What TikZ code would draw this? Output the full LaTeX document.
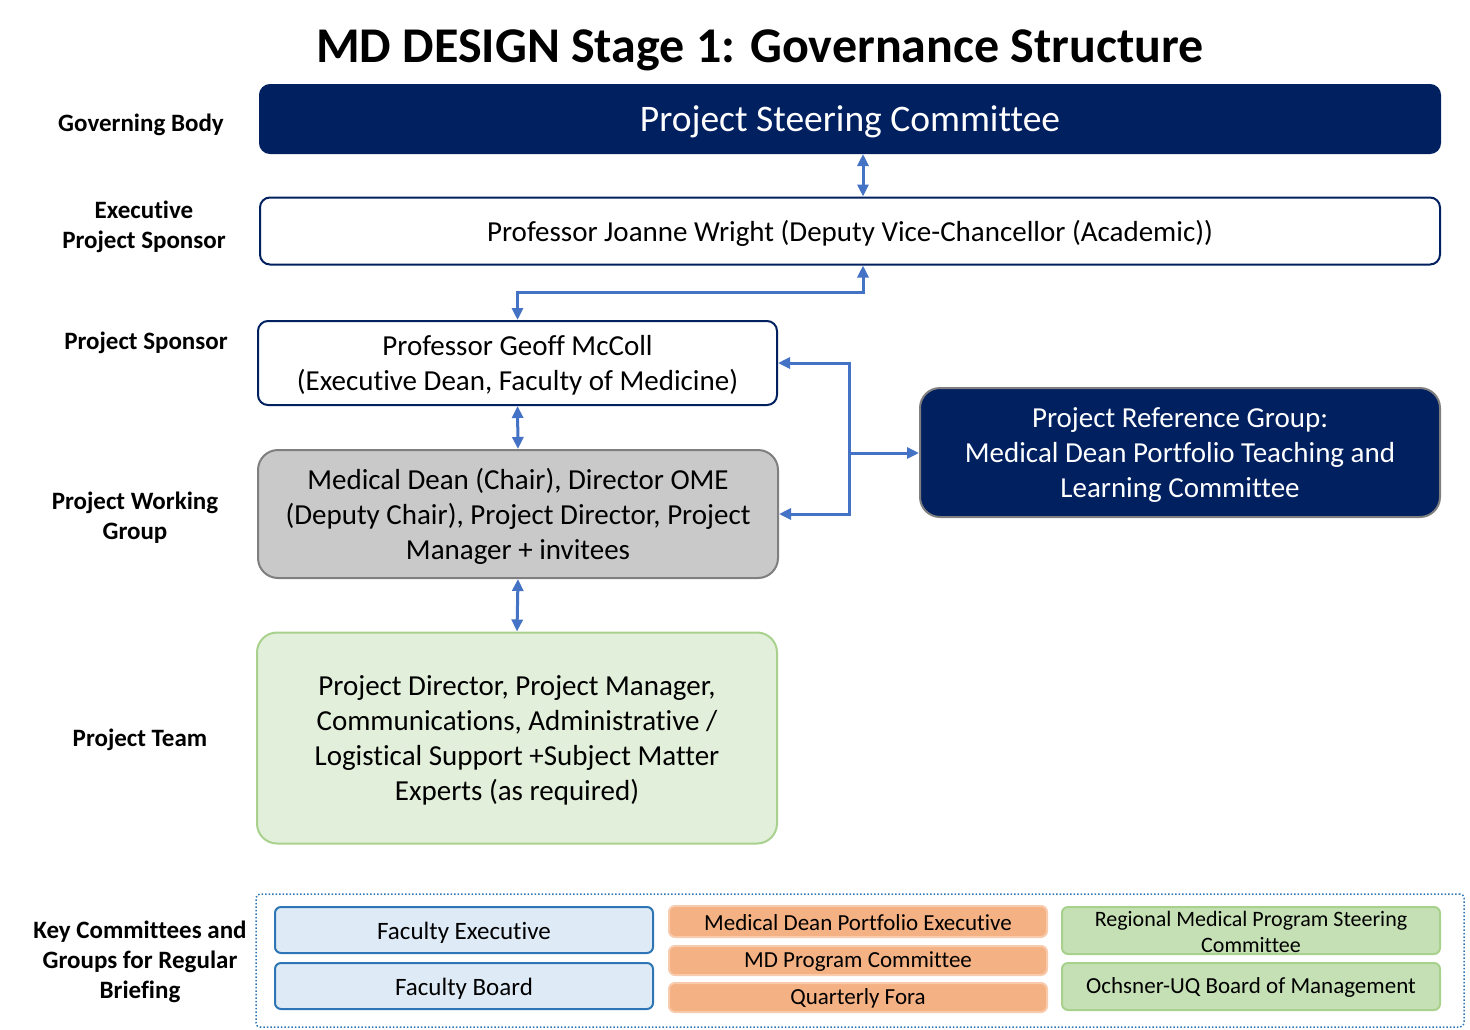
\documentclass[tikz,border=0pt]{standalone}
\usepackage{fontspec}
\setmainfont{Carlito}[Ligatures={NoCommon}]
\usetikzlibrary{arrows.meta,calc}
\definecolor{navy}{HTML}{002060}
\definecolor{arrblue}{HTML}{4472C4}
\definecolor{wggray}{HTML}{C9C9C9}
\definecolor{wgborder}{HTML}{7F7F7F}
\definecolor{teamfill}{HTML}{E2EFDA}
\definecolor{teamborder}{HTML}{A9D18E}
\definecolor{facfill}{HTML}{DEEBF7}
\definecolor{facborder}{HTML}{2E75B6}
\definecolor{orfill}{HTML}{F4B183}
\definecolor{orborder}{HTML}{F8CBAD}
\definecolor{grfill}{HTML}{C5E0B4}
\begin{document}
\begin{tikzpicture}[x=1pt,y=-1pt,
  box/.style={rounded corners=10pt, line width=2pt, inner sep=0pt},
  txt/.style={align=center, inner sep=0pt, yshift=-2.5pt},
  stxt/.style={align=center, inner sep=0pt, yshift=-1pt},
  lbl/.style={font=\fontsize{25}{30}\selectfont\bfseries, align=center, inner sep=0pt},
  body/.style={font=\fontsize{29}{35}\selectfont},
  small/.style={font=\fontsize{23}{26}\selectfont},
  arr/.style={draw=arrblue, line width=3pt, {Triangle[length=12pt,width=11pt]}-{Triangle[length=12pt,width=11pt]}},
  arrone/.style={draw=arrblue, line width=3pt, -{Triangle[length=12pt,width=11pt]}},
  bbox/.style={rounded corners=6pt, line width=2pt, inner sep=0pt, minimum width=378pt}
]
\useasboundingbox (0,0) rectangle (1470,1029);

% title
\node[font=\fontsize{50}{54}\selectfont\bfseries] (title) at (760,50) {MD DESIGN Stage 1: Governance Structure};

% left labels
\node[lbl] (l1) at (141,125) {Governing Body};
\node[lbl] (l2) at (144,227) {Executive\\Project Sponsor};
\node[lbl] (l3) at (146,343) {Project Sponsor};
\node[lbl] (l4) at (135,518) {Project Working\\Group};
\node[lbl] (l5) at (140,740) {Project Team};
\node[lbl] (l6) at (140,962) {Key Committees and\\Groups for Regular\\Briefing};

% main boxes
\node[box, fill=navy, draw=navy, minimum width=1180pt, minimum height=68pt] (psc) at (850,119) {};
\node[txt, text=white, font=\fontsize{37.5}{40}\selectfont] (psct) at (psc.center) {Project Steering Committee};
\node[box, fill=white, draw=navy, minimum width=1180pt, minimum height=67pt] (exec) at (850,231) {};
\node[txt, body] (exect) at (exec.center) {Professor Joanne Wright (Deputy Vice-Chancellor (Academic))};
\node[box, fill=white, draw=navy, minimum width=519pt, minimum height=84pt] (geoff) at (517.5,363) {};
\node[txt, body] (geofft) at (geoff.center) {Professor Geoff McColl\\(Executive Dean, Faculty of Medicine)};
\node[box, rounded corners=20pt, fill=wggray, draw=wgborder, minimum width=520pt, minimum height=128pt] (wg) at (518,514) {};
\node[txt, body] (wgt) at (wg.center) {Medical Dean (Chair), Director OME\\(Deputy Chair), Project Director, Project\\Manager + invitees};
\node[box, rounded corners=20pt, fill=teamfill, draw=teamborder, minimum width=520pt, minimum height=211pt] (team) at (517,738) {};
\node[txt, body] (teamt) at (team.center) {Project Director, Project Manager,\\Communications, Administrative /\\Logistical Support +Subject Matter\\Experts (as required)};
\node[box, rounded corners=20pt, fill=navy, draw=wgborder, minimum width=520pt, minimum height=129pt] (ref) at (1180,452.5) {};
\node[txt, body, text=white] (reft) at (ref.center) {Project Reference Group:\\Medical Dean Portfolio Teaching and\\Learning Committee};

% connectors
\coordinate (cx) at (863,0);
\coordinate (hy) at (0,292);
\coordinate (j) at (849,453);
\draw[arr] (cx |- psc.south) -- (cx |- exec.north);
\draw[arr] (cx |- exec.south) -- (cx |- hy) -| (geoff.north);
\draw[arr] (geoff.south) -- (wg.north);
\draw[arr] (wg.south) -- (team.north);
\draw[arr] (geoff.east) -| (j) |- (wg.east);
\draw[arrone] (j) -- (ref.west |- j);

% bottom group
\node[draw=facborder, dotted, line width=1.5pt, rounded corners=4pt, minimum width=1208pt, minimum height=133pt, inner sep=0pt] (grp) at (860,960.5) {};
\node[bbox, fill=facfill, draw=facborder, minimum height=46pt] (fe) at (464,930) {};
\node[txt, font=\fontsize{25}{28}\selectfont] (fet) at (fe.center) {Faculty Executive};
\node[bbox, fill=facfill, draw=facborder, minimum height=46pt] (fb) at (464,986) {};
\node[txt, font=\fontsize{25}{28}\selectfont] (fbt) at (fb.center) {Faculty Board};
\node[bbox, fill=orfill, draw=orborder, minimum height=31pt] (mdpe) at (858,921.5) {};
\node[stxt, small] (mdpet) at (mdpe.center) {Medical Dean Portfolio Executive};
\node[bbox, fill=orfill, draw=orborder, minimum height=29pt] (mdpc) at (858,960.5) {};
\node[stxt, small] (mdpct) at (mdpc.center) {MD Program Committee};
\node[bbox, fill=orfill, draw=orborder, minimum height=29pt] (qf) at (858,997.5) {};
\node[stxt, small] (qft) at (qf.center) {Quarterly Fora};
\node[bbox, fill=grfill, draw=teamborder, minimum height=47pt] (rmp) at (1251,930.5) {};
\node[stxt, font=\fontsize{22}{26}\selectfont] (rmpt) at (rmp.center) {Regional Medical Program Steering\\Committee};
\node[bbox, fill=grfill, draw=teamborder, minimum height=47pt] (och) at (1251,986.5) {};
\node[stxt, small] (ocht) at (och.center) {Ochsner-UQ Board of Management};
\end{tikzpicture}
\end{document}
